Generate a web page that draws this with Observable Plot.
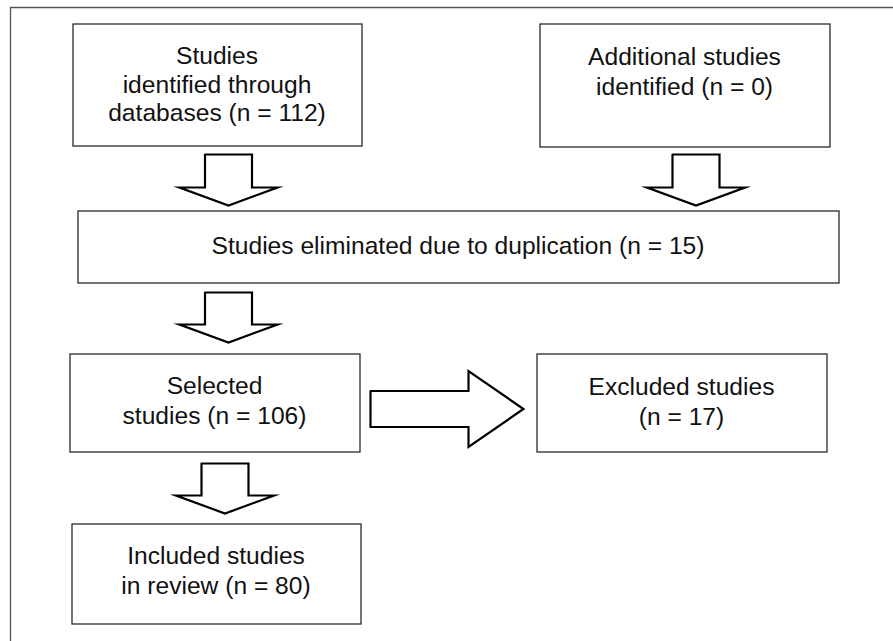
<!DOCTYPE html>
<html>
<head>
<meta charset="utf-8">
<script src="https://cdn.jsdelivr.net/npm/d3@7"></script>
<script src="https://cdn.jsdelivr.net/npm/@observablehq/plot@0.6"></script>
<style>
  html, body { margin: 0; padding: 0; background: #fff; }
  #chart svg { display: block; }
</style>
</head>
<body>
<div id="chart"></div>
<script>
// ---- content ----
const nodeIds = ["identified", "additional", "duplicates", "selected", "included", "excluded"];
const nodeLines = [
  ["Studies", "identified through", "databases (n = 112)"],
  ["Additional studies", "identified (n = 0)"],
  ["Studies eliminated due to duplication (n = 15)"],
  ["Selected", "studies (n = 106)"],
  ["Included studies", "in review (n = 80)"],
  ["Excluded studies", "(n = 17)"]
];

// ---- layout (pixel space of the figure) ----
const boxX1 = [73, 540, 78, 70, 72, 537];
const boxX2 = [362, 830, 839, 360, 361, 827];
const boxY1 = [24, 24, 211, 354, 524, 354];
const boxY2 = [146, 147, 283, 452, 624, 452];
const firstLineY = [56, 57, 246, 385.5, 556, 386.5];
const lineGap = [28.5, 29.3, 0, 30.5, 30, 30.5];

// down arrows: centre x, top of shaft, tip
const downCx = [228, 695.5, 228, 224.5];
const downTop = [154, 154, 292, 463];
const downTip = [205, 205, 342, 513];
// right arrow: left x, tip x, centre y
const rightX0 = [370];
const rightTip = [523];
const rightCy = [408.5];

const shaftHalf = 23.5, headHalf = 49, headLen = 18;
const rShaftHalf = 18, rHeadHalf = 38, rHeadLen = 55;

// ---- build tables ----
const boxes = nodeIds.map((id, i) => ({id, x1: boxX1[i], x2: boxX2[i], y1: boxY1[i], y2: boxY2[i]}));
const texts = nodeIds.flatMap((id, i) => nodeLines[i].map((t, j) => ({
  text: t, x: (boxX1[i] + boxX2[i]) / 2 - 1, y: firstLineY[i] + j * lineGap[i]
})));

const arrowPts = [];
downCx.forEach((cx, i) => {
  const t = downTop[i], p = downTip[i], h = p - headLen;
  const pts = [[cx - shaftHalf, t], [cx + shaftHalf, t], [cx + shaftHalf, h], [cx + headHalf, h],
               [cx, p], [cx - headHalf, h], [cx - shaftHalf, h], [cx - shaftHalf, t]];
  pts.forEach(([x, y]) => arrowPts.push({id: "d" + i, x, y}));
});
rightX0.forEach((x0, i) => {
  const p = rightTip[i], cy = rightCy[i], hb = p - rHeadLen;
  const pts = [[x0, cy - rShaftHalf], [hb, cy - rShaftHalf], [hb, cy - rHeadHalf], [p, cy],
               [hb, cy + rHeadHalf], [hb, cy + rShaftHalf], [x0, cy + rShaftHalf], [x0, cy - rShaftHalf]];
  pts.forEach(([x, y]) => arrowPts.push({id: "r" + i, x, y}));
});

const W = 893, H = 641;
const chart = Plot.plot({
  width: W, height: H, margin: 0,
  x: {domain: [0, W], axis: null},
  y: {domain: [0, H], reverse: true, axis: null},
  style: {background: "#fff", fontFamily: "'Liberation Sans', Arial, sans-serif"},
  marks: [
    // outer frame (top and left edges visible)
    Plot.ruleY([7], {x1: 10, x2: W, stroke: "#555", strokeWidth: 1.3}),
    Plot.ruleX([10], {y1: 7, y2: H, stroke: "#555", strokeWidth: 1.3}),
    Plot.rect(boxes, {x1: "x1", x2: "x2", y1: "y1", y2: "y2", fill: "#fff", stroke: "#2a2a2a", strokeWidth: 1.3}),
    Plot.line(arrowPts, {x: "x", y: "y", z: "id", stroke: "#000", strokeWidth: 2.2, strokeLinejoin: "miter", strokeMiterlimit: 10}),
    Plot.text(texts, {x: "x", y: "y", text: "text", fontSize: 24.6, fill: "#111", textAnchor: "middle"})
  ]
});
document.getElementById("chart").appendChild(chart);
</script>
</body>
</html>
